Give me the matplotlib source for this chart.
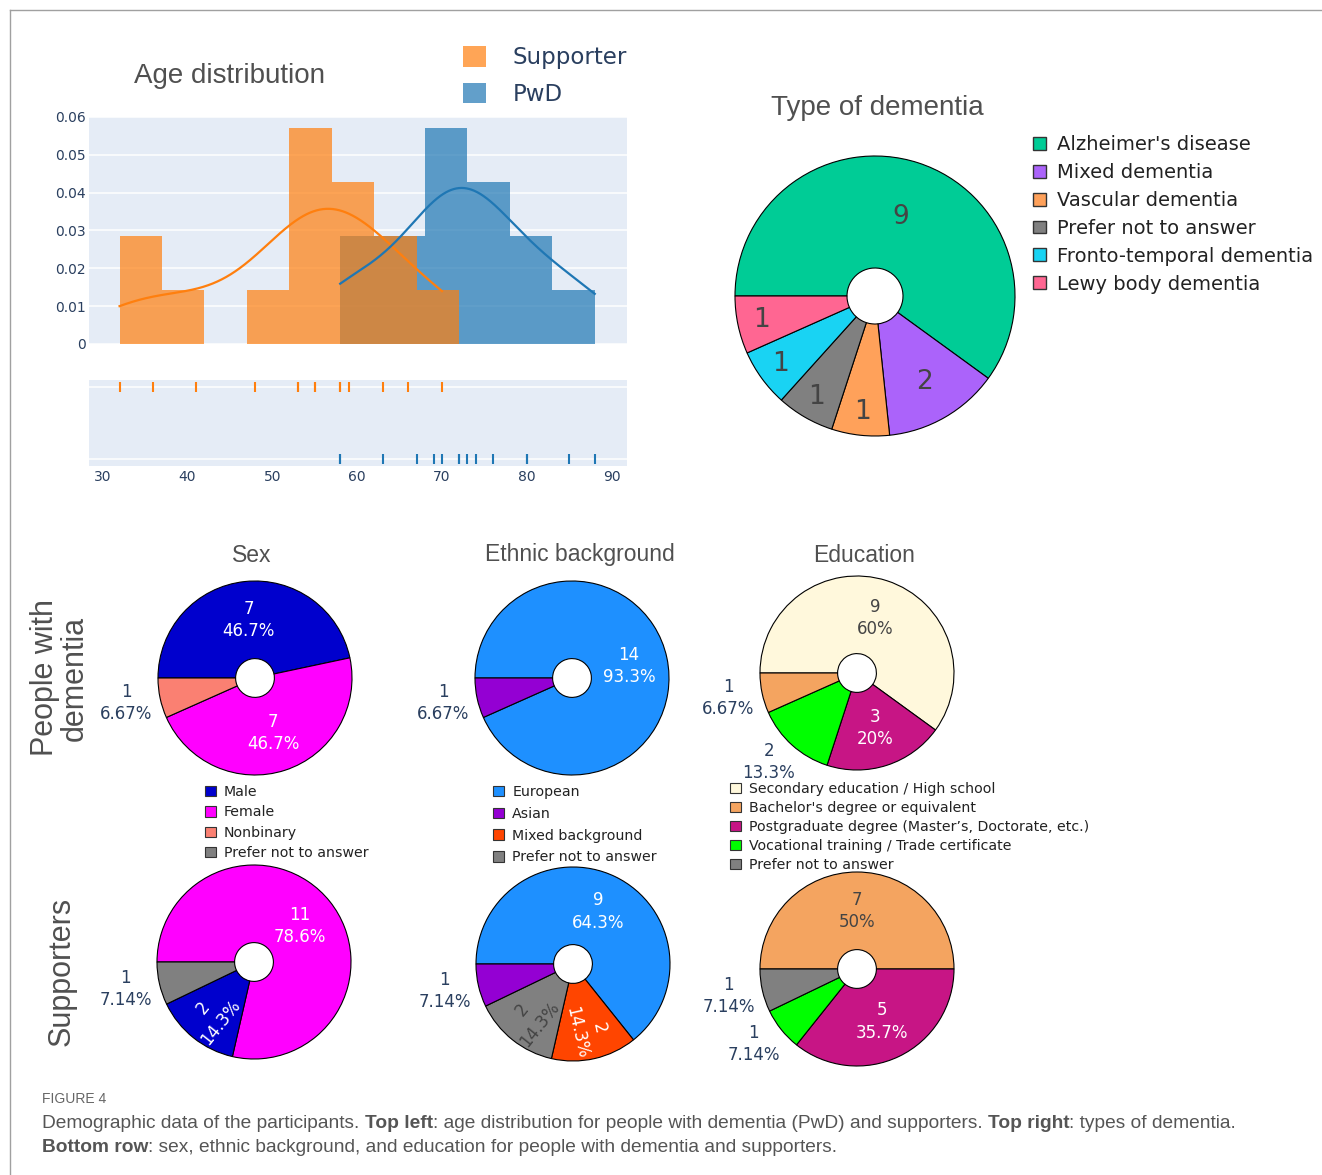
import numpy as np
import matplotlib.pyplot as plt
from matplotlib.patches import Patch
from matplotlib.lines import Line2D

W, H = 1322, 1175

# ages in years
supporter_ages = [32, 36, 41, 48, 53, 53, 55, 55, 58, 58, 59, 63, 66, 70]
pwd_ages = [58, 58, 63, 67, 69, 70, 72, 72, 73, 74, 76, 80, 80, 85, 88]
age_bin = 5
age_ticks = [30, 40, 50, 60, 70, 80, 90]
density_ticks = [0, 0.01, 0.02, 0.03, 0.04, 0.05, 0.06]

# type of dementia (people with dementia)
dementia_types = ["Alzheimer's disease", "Mixed dementia", "Vascular dementia",
                  "Prefer not to answer", "Fronto-temporal dementia", "Lewy body dementia"]
dementia_counts = [9, 2, 1, 1, 1, 1]
dementia_colors = ['#00CC96', '#AB63FA', '#FFA15A', '#808080', '#19D3F3', '#FF6692']

sex_labels = ['Male', 'Female', 'Nonbinary', 'Prefer not to answer']
sex_colors = ['#0000CD', '#FF00FF', '#FA8072', '#808080']
sex_pwd = [7, 7, 1, 0]
sex_sup = [2, 11, 0, 1]

eth_labels = ['European', 'Asian', 'Mixed background', 'Prefer not to answer']
eth_colors = ['#1E90FF', '#9400D3', '#FF4500', '#808080']
eth_pwd = [14, 1, 0, 0]
eth_sup = [9, 1, 2, 2]

edu_labels = ['Secondary education / High school', "Bachelor's degree or equivalent",
              'Postgraduate degree (Master\u2019s, Doctorate, etc.)',
              'Vocational training / Trade certificate', 'Prefer not to answer']
edu_colors = ['#FFF8DC', '#F4A460', '#C71585', '#00FF00', '#808080']
edu_pwd = [9, 1, 3, 2, 0]
edu_sup = [0, 7, 5, 1, 1]

ORANGE = '#ff7f0e'
BLUE = '#1f77b4'
BG = '#E5ECF6'
TICK = '#2a3f5f'
TITLE = '#505050'
TITLE_FONT = 'Liberation Sans'

plt.rcParams['font.family'] = 'DejaVu Sans'
fig = plt.figure(figsize=(W / 100, H / 100), dpi=100)


def px_axes(left, top, right, bottom, **kw):
    return fig.add_axes([left / W, 1 - bottom / H, (right - left) / W, (bottom - top) / H], **kw)


def fig_xy(x, y):
    return x / W, 1 - y / H


def text_color(c):
    r, g, b = [int(c[i:i + 2], 16) for i in (1, 3, 5)]
    return '#444444' if (r * 299 + g * 587 + b * 114) / 1000 >= 128 else 'white'


def kde(data, xs):
    data = np.asarray(data, float)
    h = data.std(ddof=1) * len(data) ** (-1 / 5)
    z = (xs[:, None] - data[None, :]) / h
    return np.exp(-0.5 * z ** 2).sum(axis=1) / (len(data) * h * np.sqrt(2 * np.pi))


def plain_axes(ax):
    ax.set_facecolor(BG)
    for s in ax.spines.values():
        s.set_visible(False)
    ax.tick_params(length=0, labelsize=10, labelcolor=TICK)
    ax.set_axisbelow(True)


# ---- age histogram + kde ----
ax_h = px_axes(89, 117, 627, 344)
plain_axes(ax_h)
ax_h.grid(axis='y', color='white', lw=1.1)
for ages, col, z in [(pwd_ages, BLUE, 1), (supporter_ages, ORANGE, 2)]:
    ages = np.asarray(ages, float)
    edges = np.arange(ages.min(), ages.max() + age_bin, age_bin)
    binned = ages[ages < edges[-1]]
    ax_h.hist(binned, bins=edges, density=True, color=col, alpha=0.7, zorder=z)
for ages, col in [(supporter_ages, ORANGE), (pwd_ages, BLUE)]:
    xs = np.linspace(min(ages), max(ages), 500)
    ax_h.plot(xs, kde(ages, xs), color=col, lw=1.6, zorder=4)
ax_h.set_xlim(28.4, 91.8)
ax_h.set_ylim(0, 0.06)
ax_h.set_xticks([])
ax_h.set_yticks(density_ticks)
ax_h.set_yticklabels(['0'] + [f'{t:.2f}' for t in density_ticks[1:]])
ax_h.tick_params(axis='y', pad=2)

# ---- rug ----
ax_r = px_axes(89, 380, 627, 466)
plain_axes(ax_r)
ax_r.grid(axis='y', color='white', lw=1.1)
ax_r.plot(supporter_ages, [1] * len(supporter_ages), ls='none', marker='|', ms=7.5, mew=1.5, color=ORANGE)
ax_r.plot(pwd_ages, [0] * len(pwd_ages), ls='none', marker='|', ms=7.5, mew=1.5, color=BLUE)
ax_r.set_xlim(28.4, 91.8)
ax_r.set_ylim(-0.1, 1.1)
ax_r.set_yticks([0, 1])
ax_r.set_yticklabels([])
ax_r.set_xticks(age_ticks)
ax_r.tick_params(axis='x', pad=3)

fig.text(*fig_xy(230, 76), 'Age distribution', ha='center', va='center', fontsize=20,
         color=TITLE, family=TITLE_FONT)
fig.legend(handles=[Patch(fc=ORANGE, alpha=0.7), Patch(fc=BLUE, alpha=0.7)],
           labels=['Supporter', 'PwD'], loc='upper left', bbox_to_anchor=fig_xy(463, 46),
           frameon=False, fontsize=16.5, handlelength=1.0, handleheight=1.0, handletextpad=1.18,
           labelspacing=0.59, borderpad=0, borderaxespad=0, labelcolor=TICK)


def donut(cx, cy, r, values, colors):
    pad = 1.03
    ax = px_axes(cx - r * pad, cy - r * pad, cx + r * pad, cy + r * pad)
    wedges, _ = ax.pie(values, colors=colors, startangle=180, counterclock=False, radius=1,
                       wedgeprops=dict(width=0.8, edgecolor='black', linewidth=0.8))
    ax.set_xlim(-pad, pad)
    ax.set_ylim(-pad, pad)
    return ax, wedges


# ---- type of dementia ----
ax_d, wedges = donut(875, 296, 140, dementia_counts, dementia_colors)
total = sum(dementia_counts)
for w, v in zip(wedges, dementia_counts):
    frac = v / total
    mid = np.deg2rad((w.theta1 + w.theta2) / 2)
    rad = 0.59 if frac > 0.3 else (0.71 if frac > 0.1 else 0.83)
    ax_d.text(rad * np.cos(mid), rad * np.sin(mid), str(v), ha='center', va='center',
              fontsize=19, color='#444444')
fig.text(*fig_xy(877, 108), 'Type of dementia', ha='center', va='center', fontsize=20,
         color=TITLE, family=TITLE_FONT)
fig.legend(handles=[Patch(fc=c, ec='#333333', lw=1) for c in dementia_colors],
           labels=dementia_types, loc='upper left', bbox_to_anchor=fig_xy(1033, 135),
           frameon=False, fontsize=14, handlelength=0.65, handleheight=0.65, handletextpad=0.6,
           labelspacing=0.46, borderpad=0, borderaxespad=0, labelcolor='#222222')


# ---- demographic pies ----
def small_pie(cx, cy, values, colors):
    r = 97
    order = sorted([i for i, v in enumerate(values) if v > 0], key=lambda i: -values[i])
    vals = [values[i] for i in order]
    cols = [colors[i] for i in order]
    ax, wedges = donut(cx, cy, r, vals, cols)
    total = sum(vals)
    kw = dict(ha='center', va='center', fontsize=12, linespacing=1.3)
    for w, v, c in zip(wedges, vals, cols):
        frac = v / total
        mid_deg = (w.theta1 + w.theta2) / 2
        mid = np.deg2rad(mid_deg)
        ux, uy = np.cos(mid), np.sin(mid)
        label = f'{v}\n{100 * frac:.3g}%'
        if frac < 0.14:
            ax.text(1.05 * ux + ux * 30 / r, 1.05 * uy + uy * 18 / r, label, color=TICK, **kw)
        elif frac < 0.18:
            rot = (mid_deg + 90) % 180 - 90
            ax.text(0.7 * ux, 0.7 * uy, label, rotation=rot, rotation_mode='anchor',
                    color=text_color(c), **kw)
        else:
            ax.text(0.6 * ux, 0.6 * uy, label, color=text_color(c), **kw)


small_pie(255, 678, sex_pwd, sex_colors)
small_pie(572, 678, eth_pwd, eth_colors)
small_pie(857, 673, edu_pwd, edu_colors)
small_pie(254, 962, sex_sup, sex_colors)
small_pie(573, 964, eth_sup, eth_colors)
small_pie(857, 969, edu_sup, edu_colors)

for x, title in [(252, 'Sex'), (580, 'Ethnic background'), (864, 'Education')]:
    fig.text(*fig_xy(x, 555), title, ha='center', va='center', fontsize=16.5,
             color=TITLE, family=TITLE_FONT)

for labels, colors, anchor, spacing in [(sex_labels, sex_colors, (205, 785), 0.45),
                                        (eth_labels, eth_colors, (493, 785), 0.55),
                                        (edu_labels, edu_colors, (730, 782), 0.35)]:
    fig.legend(handles=[Patch(fc=c, ec='#333333', lw=0.8) for c in colors], labels=labels,
               loc='upper left', bbox_to_anchor=fig_xy(*anchor), frameon=False, fontsize=10.2,
               handlelength=0.75, handleheight=0.75, handletextpad=0.6, labelspacing=spacing,
               borderpad=0, borderaxespad=0, labelcolor='#222222')

fig.text(*fig_xy(60, 678), 'People with\ndementia', rotation=90, ha='center', va='center',
         fontsize=22, color=TITLE, family=TITLE_FONT, linespacing=1.0)
fig.text(*fig_xy(62, 971), 'Supporters', rotation=90, ha='center', va='center',
         fontsize=22, color=TITLE, family=TITLE_FONT)

# ---- frame and caption ----
fig.add_artist(Line2D([10 / W, 1], [1 - 10 / H] * 2, color='#a0a0a0', lw=1))
fig.add_artist(Line2D([10 / W] * 2, [0, 1 - 10 / H], color='#a0a0a0', lw=1))

cap = fig.add_axes([0, 0, 1, 1], zorder=-1)
cap.axis('off')
cap.text(42 / W, 1 - 1099 / H, 'FIGURE 4', fontsize=10, color='#666666', va='center',
         family=TITLE_FONT)


def caption_line(x, y, parts):
    prev = None
    for s, bold, gap in parts:
        kw = dict(fontsize=13.8, color='#555555', family=TITLE_FONT, va='bottom', ha='left',
                  fontweight='bold' if bold else 'normal')
        if prev is None:
            prev = cap.text(x / W, 1 - y / H, s, **kw)
        else:
            prev = cap.annotate(s, xy=(1, 0), xycoords=prev, xytext=(gap, 0),
                                textcoords='offset points', **kw)


caption_line(42, 1132, [('Demographic data of the participants.', False, 0),
                        ('Top left', True, 3.8),
                        (': age distribution for people with dementia (PwD) and supporters.', False, 0),
                        ('Top right', True, 3.8),
                        (': types of dementia.', False, 0)])
caption_line(42, 1156, [('Bottom row', True, 0),
                        (': sex, ethnic background, and education for people with dementia and supporters.', False, 0)])

fig.savefig('out.png', dpi=100)
